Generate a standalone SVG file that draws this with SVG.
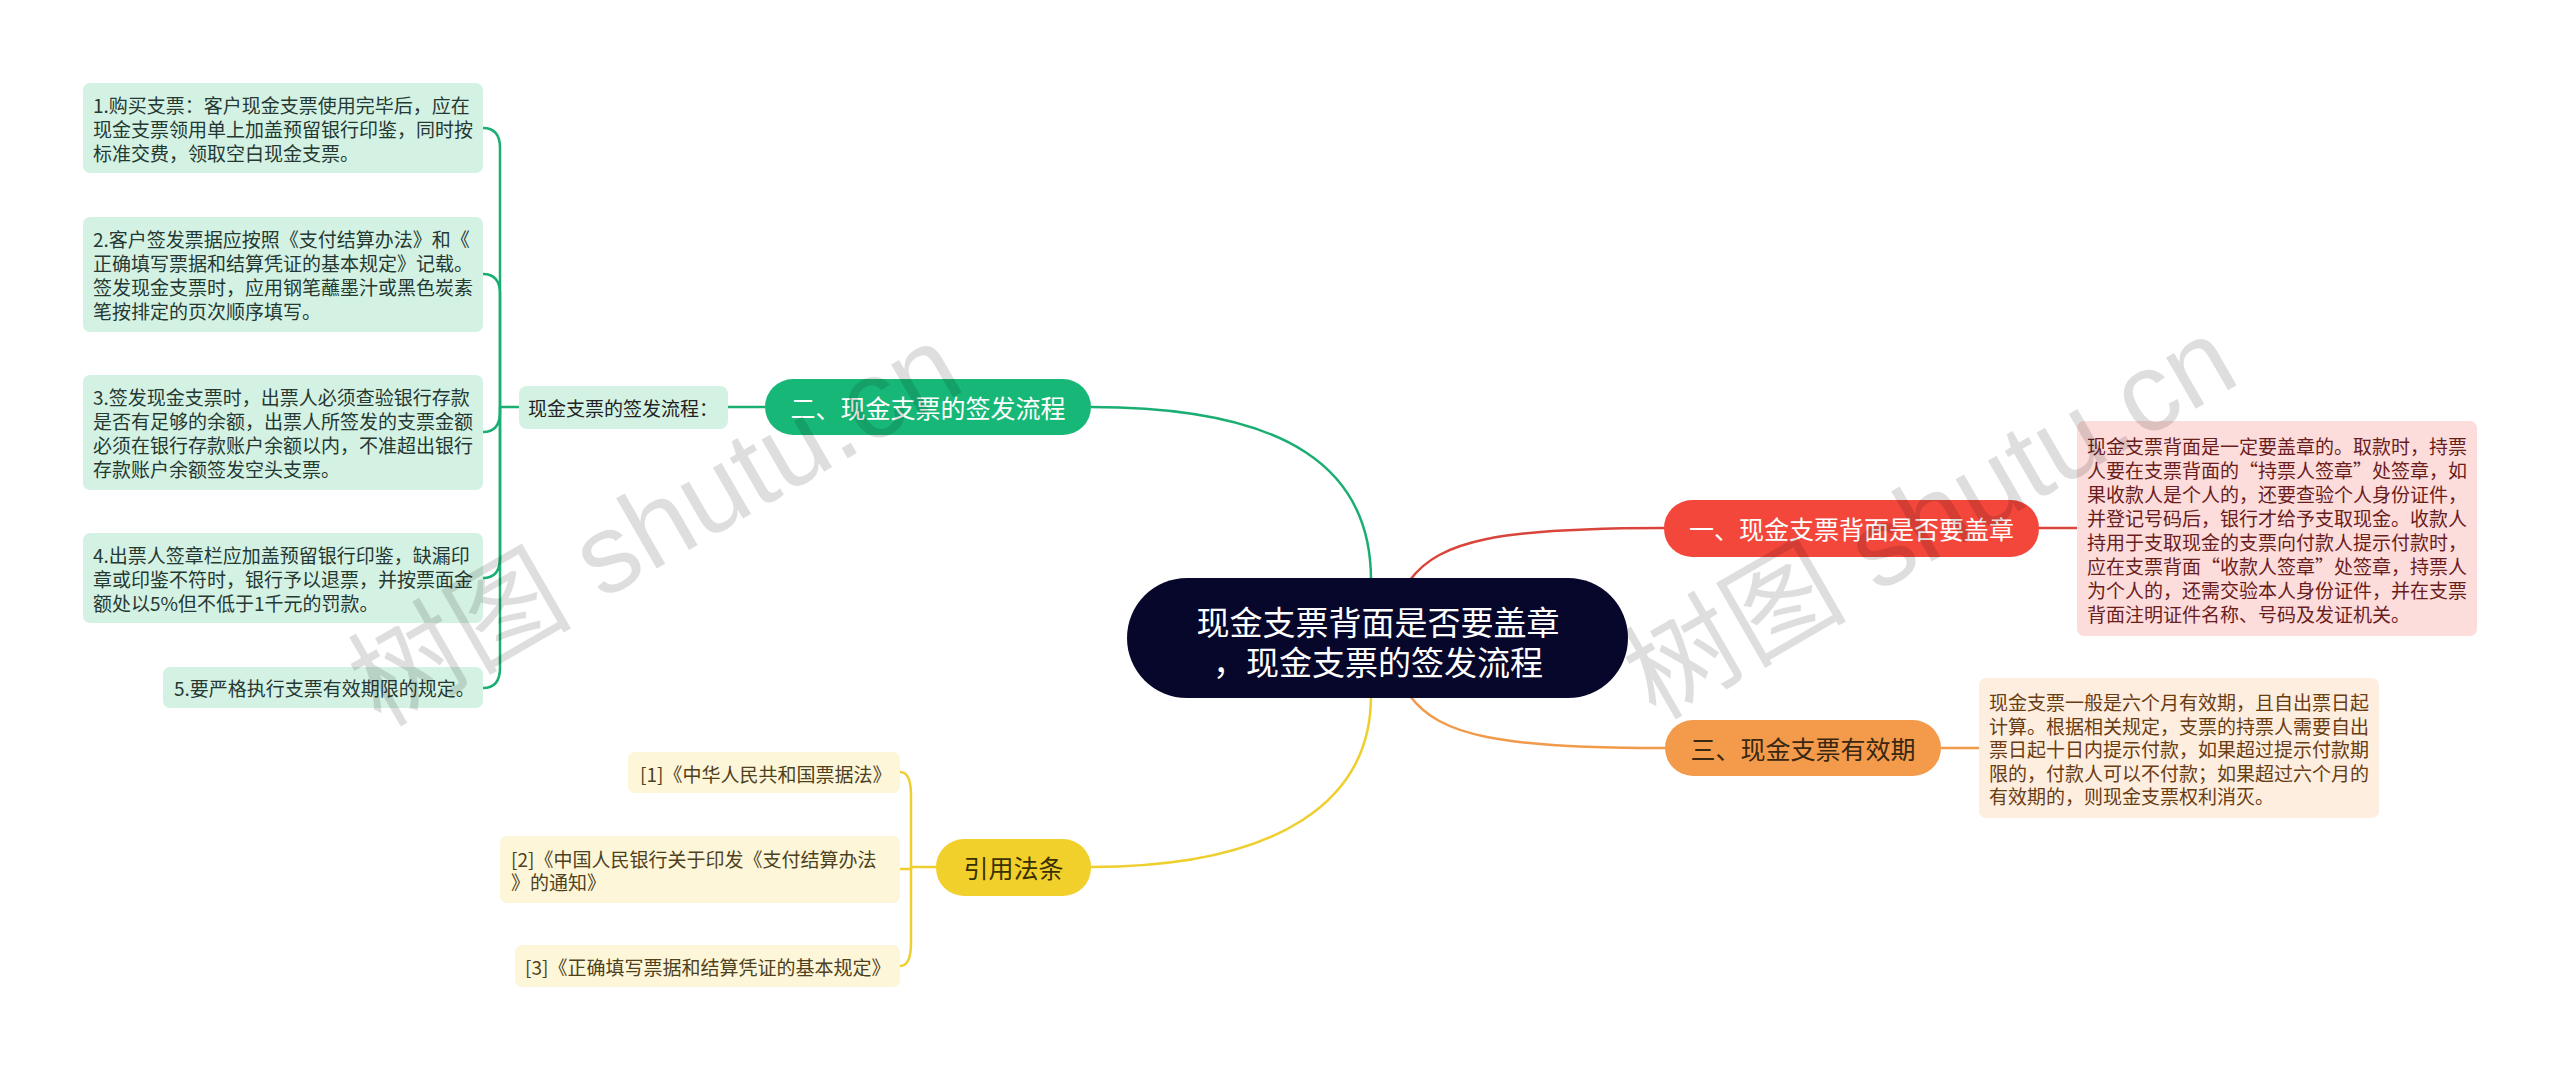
<svg xmlns="http://www.w3.org/2000/svg" width="2560" height="1070" viewBox="0 0 2560 1070">
<style>
text{font-family:"Noto Sans CJK SC","Liberation Sans",sans-serif;dominant-baseline:central}
.lf{font-size:19px}
.gl{fill:#d4f2e4}
.gt{fill:#263832}
.rl{fill:#fddcdc}
.rt{fill:#6a1d1d}
.ol{fill:#fdeedf}
.ot{fill:#6a3c12}
.yl{fill:#fdf6d8}
.yt{fill:#4e4120}
.br{font-size:25px;text-anchor:middle}
.cg{fill:none;stroke:#1aae72;stroke-width:2.5}
.cr{fill:none;stroke:#d9453b;stroke-width:2.5}
.co{fill:none;stroke:#f09a4a;stroke-width:2.5}
.cy{fill:none;stroke:#efcf2e;stroke-width:2.5}
.wm{font-size:112px;fill:#000;fill-opacity:0.13;text-anchor:middle;font-family:"Liberation Sans","Noto Sans CJK SC",sans-serif}
</style>
<rect width="2560" height="1070" fill="#ffffff"/>
<g id="connectors">
<path class="cg" d="M1091,407 C1290,407 1371,470 1371,580"/>
<path class="cr" d="M1410,580 C1440,540 1500,528 1664,528"/>
<path class="co" d="M1410,696 C1440,736 1500,748 1665,748"/>
<path class="cy" d="M1371,696 C1371,800 1280,867 1091,867"/>
<path class="cr" d="M2039,528 L2077,528"/>
<path class="co" d="M1941,748 L1979,748"/>
<path class="cg" d="M765,407 L728,407"/>
<path class="cg" d="M519,407 L500,407"/>
<path class="cg" d="M500,407 L500,148 Q500,128 483,128"/>
<path class="cg" d="M500,407 L500,294 Q500,274 483,274"/>
<path class="cg" d="M500,407 L500,412 Q500,432 483,432"/>
<path class="cg" d="M500,407 L500,558 Q500,578 483,578"/>
<path class="cg" d="M500,407 L500,668 Q500,688 483,688"/>
<path class="cy" d="M936,867 L911,867"/>
<path class="cy" d="M911,867 L911,795 Q911,772 900,772"/>
<path class="cy" d="M911,867 L911,869 L900,869"/>
<path class="cy" d="M911,867 L911,943 Q911,966 900,966"/>
</g>
<g id="center">
<rect x="1127" y="578" width="501" height="120" rx="60" fill="#07072c"/>
<text x="1378" y="621" font-size="33" fill="#ffffff" text-anchor="middle">现金支票背面是否要盖章</text>
<text x="1378" y="661" font-size="33" fill="#ffffff" text-anchor="middle">，现金支票的签发流程</text>
</g>
<g id="branch-green">
<rect x="765" y="379" width="326" height="56" rx="28" fill="#17b877"/>
<text class="br" x="928" y="407" fill="#ffffff">二、现金支票的签发流程</text>
</g>
<g id="branch-red">
<rect x="1664" y="500" width="375" height="57" rx="28" fill="#f4473c"/>
<text class="br" x="1851.5" y="528" fill="#ffffff">一、现金支票背面是否要盖章</text>
</g>
<g id="branch-orange">
<rect x="1665" y="720" width="276" height="56" rx="28" fill="#f39b4b"/>
<text class="br" x="1803" y="748" fill="#3a2712">三、现金支票有效期</text>
</g>
<g id="branch-yellow">
<rect x="936" y="839" width="155" height="57" rx="28" fill="#f1d02c"/>
<text class="br" x="1013.5" y="867" fill="#3a3000">引用法条</text>
</g>
<g id="label-process">
<rect class="gl" x="519" y="386" width="209" height="43" rx="8"/>
<text class="lf" x="528" y="407" fill="#222">现金支票的签发流程：</text>
</g>
<g id="leaf-1">
<rect class="gl" x="83" y="83" width="400" height="90" rx="7"/>
<text class="lf gt" x="93" y="104">1.购买支票：客户现金支票使用完毕后，应在</text>
<text class="lf gt" x="93" y="128">现金支票领用单上加盖预留银行印鉴，同时按</text>
<text class="lf gt" x="93" y="152">标准交费，领取空白现金支票。</text>
</g>
<g id="leaf-2">
<rect class="gl" x="83" y="217" width="400" height="115" rx="7"/>
<text class="lf gt" x="93" y="238">2.客户签发票据应按照《支付结算办法》和《</text>
<text class="lf gt" x="93" y="262">正确填写票据和结算凭证的基本规定》记载。</text>
<text class="lf gt" x="93" y="286">签发现金支票时，应用钢笔蘸墨汁或黑色炭素</text>
<text class="lf gt" x="93" y="310">笔按排定的页次顺序填写。</text>
</g>
<g id="leaf-3">
<rect class="gl" x="83" y="375" width="400" height="115" rx="7"/>
<text class="lf gt" x="93" y="396">3.签发现金支票时，出票人必须查验银行存款</text>
<text class="lf gt" x="93" y="420">是否有足够的余额，出票人所签发的支票金额</text>
<text class="lf gt" x="93" y="444">必须在银行存款账户余额以内，不准超出银行</text>
<text class="lf gt" x="93" y="468">存款账户余额签发空头支票。</text>
</g>
<g id="leaf-4">
<rect class="gl" x="83" y="533" width="400" height="90" rx="7"/>
<text class="lf gt" x="93" y="554">4.出票人签章栏应加盖预留银行印鉴，缺漏印</text>
<text class="lf gt" x="93" y="578">章或印鉴不符时，银行予以退票，并按票面金</text>
<text class="lf gt" x="93" y="602">额处以5%但不低于1千元的罚款。</text>
</g>
<g id="leaf-5">
<rect class="gl" x="163" y="667" width="320" height="41" rx="7"/>
<text class="lf gt" x="174" y="687">5.要严格执行支票有效期限的规定。</text>
</g>
<g id="leaf-red">
<rect class="rl" x="2077" y="421" width="400" height="215" rx="7"/>
<text class="lf rt" x="2087" y="445">现金支票背面是一定要盖章的。取款时，持票</text>
<text class="lf rt" x="2087" y="469">人要在支票背面的“持票人签章”处签章，如</text>
<text class="lf rt" x="2087" y="493">果收款人是个人的，还要查验个人身份证件，</text>
<text class="lf rt" x="2087" y="517">并登记号码后，银行才给予支取现金。收款人</text>
<text class="lf rt" x="2087" y="541">持用于支取现金的支票向付款人提示付款时，</text>
<text class="lf rt" x="2087" y="565">应在支票背面“收款人签章”处签章，持票人</text>
<text class="lf rt" x="2087" y="589">为个人的，还需交验本人身份证件，并在支票</text>
<text class="lf rt" x="2087" y="613">背面注明证件名称、号码及发证机关。</text>
</g>
<g id="leaf-orange">
<rect class="ol" x="1979" y="678" width="400" height="140" rx="7"/>
<text class="lf ot" x="1989" y="701">现金支票一般是六个月有效期，且自出票日起</text>
<text class="lf ot" x="1989" y="725">计算。根据相关规定，支票的持票人需要自出</text>
<text class="lf ot" x="1989" y="748">票日起十日内提示付款，如果超过提示付款期</text>
<text class="lf ot" x="1989" y="772">限的，付款人可以不付款；如果超过六个月的</text>
<text class="lf ot" x="1989" y="795">有效期的，则现金支票权利消灭。</text>
</g>
<g id="ref-1">
<rect class="yl" x="628" y="752" width="272" height="41" rx="7"/>
<text class="lf yt" x="640" y="773">[1]《中华人民共和国票据法》</text>
</g>
<g id="ref-2">
<rect class="yl" x="500" y="836" width="400" height="67" rx="7"/>
<text class="lf yt" x="511" y="858">[2]《中国人民银行关于印发《支付结算办法</text>
<text class="lf yt" x="511" y="881">》的通知》</text>
</g>
<g id="ref-3">
<rect class="yl" x="515" y="945" width="385" height="42" rx="7"/>
<text class="lf yt" x="525" y="966">[3]《正确填写票据和结算凭证的基本规定》</text>
</g>
<g id="watermark">
<text class="wm" transform="translate(655,525) rotate(-30)">树图 shutu.cn</text>
<text class="wm" transform="translate(1930,518) rotate(-30)">树图 shutu.cn</text>
</g>
</svg>
